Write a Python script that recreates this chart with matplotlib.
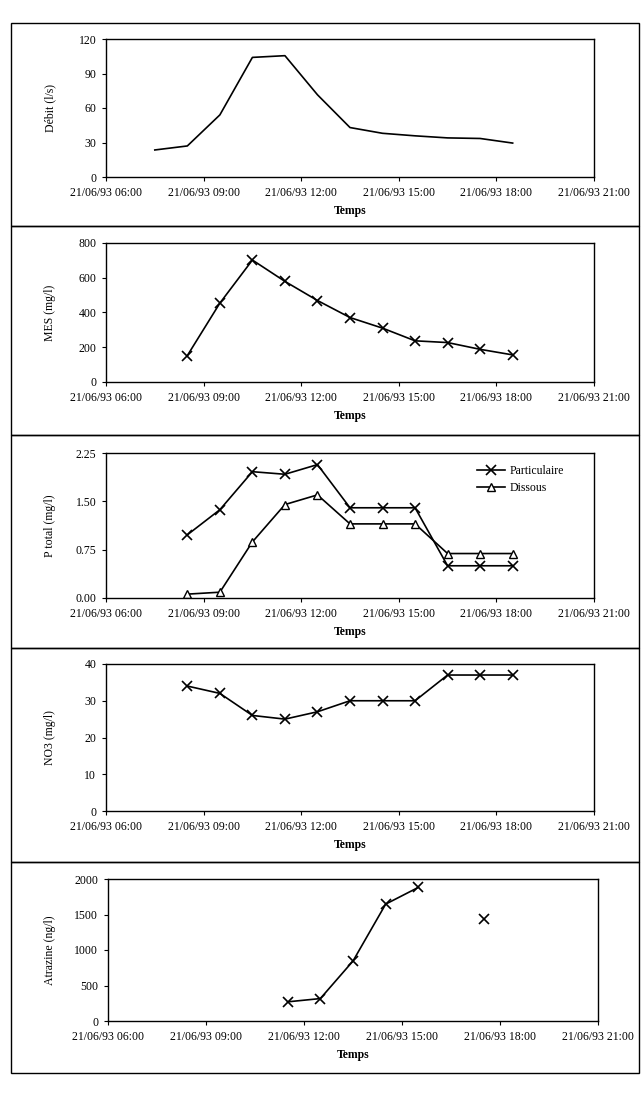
import matplotlib
matplotlib.use('Agg')
import matplotlib.pyplot as plt
import matplotlib.dates as mdates
from matplotlib.patches import Rectangle
from datetime import datetime

plt.rcParams['font.family'] = ['Liberation Serif', 'DejaVu Serif']
plt.rcParams['font.size'] = 8.5

# --- data ---
debit_heures = ["07:30", "08:30", "09:30", "10:30", "11:30", "12:30", "13:30",
                "14:30", "15:30", "16:30", "17:30", "18:30"]
debit = [23.5, 27, 54, 104, 105.5, 71.5, 43, 38, 35.8, 34, 33.5, 29.5]

heures = ["08:30", "09:30", "10:30", "11:30", "12:30", "13:30", "14:30",
          "15:30", "16:30", "17:30", "18:30"]
mes = [152, 454, 702, 579, 469, 371, 310, 237, 227, 188, 156]
p_particulaire = [0.98, 1.37, 1.96, 1.92, 2.07, 1.40, 1.40, 1.40, 0.50, 0.50, 0.50]
p_dissous = [0.06, 0.09, 0.87, 1.45, 1.60, 1.15, 1.15, 1.15, 0.69, 0.69, 0.69]
no3 = [34, 32, 26, 25, 27, 30, 30, 30, 37, 37, 37]

atra_heures = ["11:30", "12:30", "13:30", "14:30", "15:30", "16:30", "17:30"]
atrazine = [270, 316, 845, 1646, 1882, float('nan'), 1434]

xticks_heures = ["06:00", "09:00", "12:00", "15:00", "18:00", "21:00"]


def t(h):
    return datetime.strptime("21/06/93 " + h, "%d/%m/%y %H:%M")


W, H = 644, 1099
fig = plt.figure(figsize=(W / 100, H / 100), dpi=100)

# panel frames (pixel rows)
frames = [23, 226, 435, 648, 862, 1073]
for top, bot in zip(frames[:-1], frames[1:]):
    fig.patches.append(Rectangle((11 / W, 1 - bot / H), (639 - 11) / W, (bot - top) / H,
                                 transform=fig.transFigure, fill=False,
                                 edgecolor='black', linewidth=1.0))


def make_ax(left, right, top, bottom):
    ax = fig.add_axes([left / W, 1 - bottom / H, (right - left) / W, (bottom - top) / H])
    ax._px = (left, right, top, bottom)
    return ax


def style(ax, ylabel, yticks, fmt):
    left, right, top, bottom = ax._px
    ax.set_xlim(t("06:00"), t("21:00"))
    ax.set_xticks([t(h) for h in xticks_heures])
    ax.xaxis.set_major_formatter(mdates.DateFormatter("%d/%m/%y %H:%M"))
    ax.set_ylim(yticks[0], yticks[-1])
    ax.set_yticks(yticks)
    ax.set_yticklabels([fmt.format(v) for v in yticks])
    ax.tick_params(direction='out', length=3, width=0.8, labelsize=8.5, pad=4)
    ax.set_ylabel(ylabel, fontsize=8.5)
    ax.yaxis.set_label_coords((56 - left) / (right - left), 0.5)
    ax.set_xlabel("Temps", fontsize=8.5, fontweight='bold')
    ax.xaxis.set_label_coords(0.5, -28 / (bottom - top))
    for s in ax.spines.values():
        s.set_linewidth(1.0)


lw = 1.2
ms = 7

ax1 = make_ax(106, 594, 39, 177)
ax1.plot([t(h) for h in debit_heures], debit, color='black', lw=lw)
style(ax1, "Débit (l/s)", [0, 30, 60, 90, 120], "{:d}")

ax2 = make_ax(106, 594, 243, 382)
ax2.plot([t(h) for h in heures], mes, color='black', lw=lw, marker='x', ms=ms, mew=1.2)
style(ax2, "MES (mg/l)", [0, 200, 400, 600, 800], "{:d}")

ax3 = make_ax(106, 594, 453, 598)
ax3.plot([t(h) for h in heures], p_particulaire, color='black', lw=lw, marker='x',
         ms=ms, mew=1.2, label="Particulaire")
ax3.plot([t(h) for h in heures], p_dissous, color='black', lw=lw, marker='^',
         ms=5.5, mfc='white', mew=1.0, label="Dissous")
style(ax3, "P total (mg/l)", [0, 0.75, 1.5, 2.25], "{:.2f}")
ax3.legend(loc='upper left', frameon=False, fontsize=8.5, handlelength=2.4,
           handletextpad=0.4, borderpad=0, borderaxespad=0,
           bbox_to_anchor=((477 - 106) / (594 - 106), 1 - (465 - 453) / (598 - 453)),
           labelspacing=0.45)

ax4 = make_ax(106, 594, 664, 811)
ax4.plot([t(h) for h in heures], no3, color='black', lw=lw, marker='x', ms=ms, mew=1.2)
style(ax4, "NO3 (mg/l)", [0, 10, 20, 30, 40], "{:d}")

ax5 = make_ax(108, 598, 879, 1021)
ax5.plot([t(h) for h in atra_heures], atrazine, color='black', lw=lw, marker='x',
         ms=ms, mew=1.2)
style(ax5, "Atrazine (ng/l)", [0, 500, 1000, 1500, 2000], "{:d}")

fig.savefig("out.png", dpi=100)
plt.close(fig)
